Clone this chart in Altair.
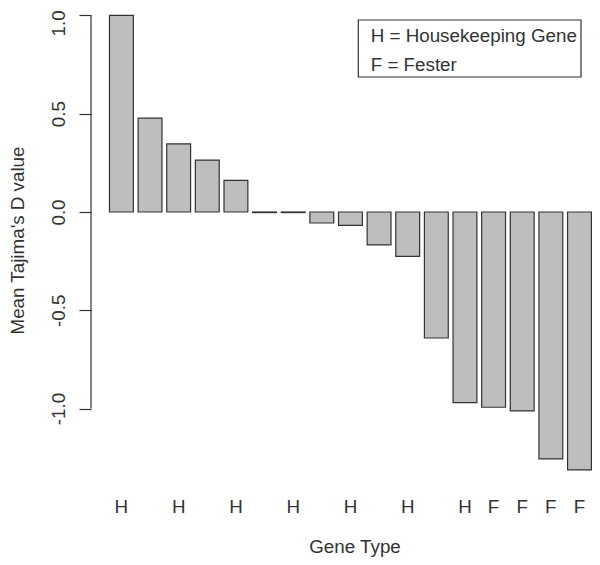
import altair as alt
import pandas as pd

# ---- data ----
bar_ids = list(range(1, 18))
values = [1.0, 0.477, 0.346, 0.264, 0.161, -0.003, -0.003, -0.056, -0.068,
          -0.167, -0.226, -0.641, -0.970, -0.993, -1.012, -1.256, -1.312]
tick_labels = ["H", "", "H", "", "H", "", "H", "", "H", "", "H", "", "H",
               "F", "F", "F", "F"]
y_ticks = [-1.0, -0.5, 0.0, 0.5, 1.0]
legend_lines = ["H = Housekeeping Gene", "F = Fester"]

df = pd.DataFrame({"bar": bar_ids, "value": values, "label": tick_labels})

FONT = "Liberation Sans"
FS = 18.8
TXT = "#333333"
LINE = "#333333"

label_js = "[" + ",".join("'" + l + "'" for l in tick_labels) + "]"

x_scale = alt.Scale(domain=bar_ids, paddingInner=1 / 6, paddingOuter=0.333,
                    align=0.969, round=False)
y_scale = alt.Scale(domain=[-1.414, 1.0376], nice=False, zero=False)

bars = alt.Chart(df).mark_bar(
    fill="#BEBEBE", stroke=LINE, strokeWidth=1.2
).encode(
    x=alt.X("bar:O", scale=x_scale, sort=bar_ids,
            axis=alt.Axis(title="Gene Type",
                          labelExpr=label_js + "[datum.value-1]",
                          labelAngle=0, domain=False, ticks=False, tickSize=0,
                          labelPadding=22, labelBaseline="alphabetic",
                          labelFont=FONT, labelFontSize=FS, labelColor=TXT,
                          titleFont=FONT, titleFontSize=FS,
                          titleFontWeight="normal", titleColor=TXT,
                          titleX=263.5, titleY=62.5, titleAlign="center",
                          titleBaseline="alphabetic")),
    y=alt.Y("value:Q", scale=y_scale,
            axis=alt.Axis(title="Mean Tajima's D value", values=y_ticks,
                          labelExpr="replace(format(datum.value, '.1f'), '\u2212', '-')",
                          labelAngle=270, labelAlign="center",
                          labelBaseline="alphabetic", labelPadding=15,
                          labelOffset={"condition": {"test": "datum.value == 1", "value": 7.5},
                                       "value": 0},
                          labelBound=False, labelOverlap=False,
                          tickSize=12, tickColor=LINE, tickWidth=1.2,
                          domain=False, grid=False,
                          labelFont=FONT, labelFontSize=FS, labelColor=TXT,
                          titleFont=FONT, titleFontSize=FS,
                          titleFontWeight="normal", titleColor=TXT,
                          titleAngle=270, titleX=-67.5, titleY=232,
                          titleAlign="center", titleBaseline="alphabetic")),
    y2=alt.datum(0),
)

dummy = pd.DataFrame({"a": [0]})

axis_line = alt.Chart(dummy).mark_rule(color=LINE, strokeWidth=1.2).encode(
    x=alt.value(0),
    y=alt.datum(min(y_ticks)),
    y2=alt.datum(max(y_ticks)),
)

legend_box = alt.Chart(dummy).mark_rect(
    fill="white", stroke=LINE, strokeWidth=1.2
).encode(
    x=alt.value(267.3), x2=alt.value(490), y=alt.value(12), y2=alt.value(69)
)

legend_t1 = alt.Chart(dummy).mark_text(
    align="left", baseline="alphabetic", font=FONT, fontSize=FS, color=TXT
).encode(x=alt.value(279.7), y=alt.value(33.7), text=alt.value(legend_lines[0]))

legend_t2 = alt.Chart(dummy).mark_text(
    align="left", baseline="alphabetic", font=FONT, fontSize=FS, color=TXT
).encode(x=alt.value(279.7), y=alt.value(62.7), text=alt.value(legend_lines[1]))

chart = alt.layer(bars, axis_line, legend_box, legend_t1, legend_t2).properties(
    width=501,
    height=482,
    padding={"left": 83, "top": 0, "right": 0, "bottom": 67},
    autosize=alt.AutoSizeParams(type="none"),
    background="white",
).configure_view(strokeOpacity=0)

chart.save("out.html", embed_options={"renderer": "svg", "actions": False})
